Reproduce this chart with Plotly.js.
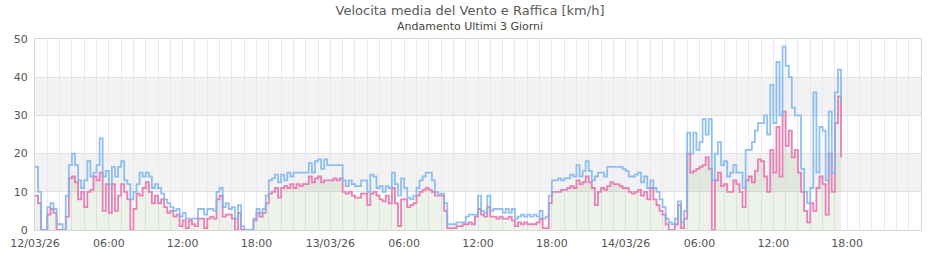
<!DOCTYPE html>
<html>
<head>
<meta charset="utf-8">
<script src="https://cdn.plot.ly/plotly-3.0.1.min.js"></script>
<style>html,body{margin:0;padding:0;background:#fff}#chart{width:940px;height:260px}</style>
</head>
<body>
<div id="chart"></div>
<script>
// Start of series and sampling step (minutes)
const seriesStart = "2026-03-12 00:00";
const stepMinutes = 15;

// Raffica (gust) km/h, 4 samples per hour from 12/03/26 00:00
const raffica = [
  16.5,10,0,0,  6,7,5.5,1.5,  1.5,0,9,17,  20,17,13,11,
  13,18,14,15,  17,24,14,15.5,  12,16.5,14,16.5,  18,13,12,8,
  10,12,15,14,  15,14,11,12,  11,9.5,8,7,  6,5,5.5,3.5,
  4.5,3,3,3,  3,5.5,5.5,4,  5.5,5.5,5,10,  11,6,7,5.5,
  6,3,6.5,1,  0,0,0,3,  5.5,4.5,5.5,9,  13,13.5,14.5,12.5,
  14.5,13,15,14,  15,15,15,15,  15,17.5,15,18,  18.5,16,18.5,17,
  17,17,17,17,  13,11.5,13,12,  11.5,11.5,13,13,  10,14.5,14,11,
  11.5,10,11.5,11,  15,12,9,13.5,  11,8.5,8,9,  11,13,14,15,
  15,13,10,9.5,  9.5,7,1.5,1.5,  1.5,2,2,2,  3.5,4,4,4,
  9,5,4.5,9,  5,5.5,5.5,5.5,  4.5,5.5,4.5,5.5,  3,3.5,4,3.5,
  4,3.5,4,3.5,  5,3,3.5,9,  13,13,13.5,13,  13.5,13.5,14.5,14,
  17,14,15.5,18,  15.5,13,14,15,  15,14,16.5,16.5,  16.5,16.5,16.5,16,
  15.5,14,14,14.5,  15,12.5,14,11,  13,11,10,8,  6,3,2,1.5,
  3,7.5,2,5,  25.5,20,25.5,21,  23,29,25,29,  13,20,23,17,
  18,14,15,17,  15,15,11,21,  21,23,26,28,  28,30,25,38,
  28,44,30,48,  43,40,32,30,  30,16,10,7,  11,36,15,27,
  26,13,31,15,  36,42,33
];

// Velocita media (average) km/h
const media = [
  9,7,0,0,  4,5.5,4.5,0,  0,0,3.5,13.5,  14,12.5,8,10,
  6,10,10.5,14,  13,15,5,12,  4.5,12,5,9,  12,10,8,0,
  5.5,9.5,9,11,  12.5,10,7,9,  7,8,6,4.5,  5,3.5,4,1,
  2.5,0.5,2.5,1.5,  1,3,3,0.5,  3,3.5,3,8,  9,3.5,4,4,
  3,0,4.5,0,  0,0,0,2.5,  4.5,3.5,4.5,7,  9.5,10,11,8.5,
  11,11.5,11,12,  11,12,11.5,12,  12,14,12.5,13.5,  14,12.5,13,13,
  13,13.5,13,13.5,  10,9.5,10,9,  8.5,8.5,9.5,9.5,  6.5,9.5,10,9,
  8,7.5,9,7,  11,7,1,8,  8,6,6.5,7,  9,10,10.5,11,
  10.5,10,9,9,  9,5,0.5,0.5,  0.5,1,1,1.5,  1.5,2,1.5,3.5,
  5.5,4,3.5,6,  3.5,3.5,3,3.5,  3,3,3.5,2.5,  1,2,1.5,2,
  1.5,1.5,1.5,2,  3,0.5,0.5,7,  10,10,10,10.5,  10.5,11,11.5,11,
  13,12,12.5,14,  12.5,11,6.5,10,  11,10.5,11.5,12.5,  12,12,11.5,11,
  11,10,9.5,10,  10.5,9,10,8,  11,8,6.5,5,  4,1.5,0,0,
  1.5,6.5,0.5,3,  20,15,15.5,16,  16.5,17,19,16,  0,13,15,11.5,
  12,10,10,13,  12,10,6,13,  14,12.5,15.5,18.5,  18,14,10,21,
  15,27,14,31,  22,26,19,21,  15,10,5,2,  7,5,11,14,
  12,4,20,10,  28,35,19
];

// Axis ticks
const tickHours = [0,6,12,18,24,30,36,42,48,54,60,66];
const tickLabels = ["12/03/26","06:00","12:00","18:00","13/03/26","06:00","12:00","18:00","14/03/26","06:00","12:00","18:00"];
const yTicks = [0,10,20,30,40,50];
const bands = [[10,20],[30,40]];

function pad(n){return (n<10?"0":"")+n;}
function timeAt(minutes){
  const d = new Date(Date.UTC(2026,2,12,0,0) + minutes*60000);
  return d.getUTCFullYear()+"-"+pad(d.getUTCMonth()+1)+"-"+pad(d.getUTCDate())+" "+pad(d.getUTCHours())+":"+pad(d.getUTCMinutes());
}
const times = raffica.map((_,i)=>timeAt(i*stepMinutes));

const traces = [
  {x: times, y: media, type:"scatter", mode:"lines", name:"Velocita media",
   line:{color:"#e87fb6", width:1.8, shape:"hv"}, fill:"tozeroy", fillcolor:"rgba(120,160,90,0.13)"},
  {x: times, y: raffica, type:"scatter", mode:"lines", name:"Raffica",
   line:{color:"#7cb5ec", width:1.8, shape:"hv"}, opacity:0.85}
];

const shapes = bands.map(b=>({type:"rect", xref:"paper", yref:"y", x0:0, x1:1, y0:b[0], y1:b[1],
  fillcolor:"rgba(0,0,0,0.05)", line:{width:0}, layer:"below"}));

const layout = {
  width:940, height:260,
  margin:{l:35, r:19, t:39, b:30},
  paper_bgcolor:"#fff", plot_bgcolor:"#fff",
  font:{family:"DejaVu Sans, sans-serif", size:11, color:"#555"},
  showlegend:false,
  title:{text:"Velocita media del Vento e Raffica [km/h]", x:0.5, xanchor:"center", xref:"container",
    y:0.958, yanchor:"middle", yref:"container",
    font:{size:13, color:"#5a5a5a"}},
  annotations:[{text:"Andamento Ultimi 3 Giorni", xref:"paper", yref:"paper", x:0.491, y:1.063,
    xanchor:"center", yanchor:"middle", showarrow:false, font:{size:11, color:"#444"}}],
  xaxis:{type:"date", range:[timeAt(0), timeAt(72*60)],
    tickmode:"array", tickvals: tickHours.map(h=>timeAt(h*60)), ticktext: tickLabels,
    showgrid:true, gridcolor:"#e8e8f8", gridwidth:1,
    minor:{dtick:3600000, showgrid:true, gridcolor:"#e8e8f8", gridwidth:1},
    showline:true, linecolor:"#d6d6d6", mirror:true, zeroline:false,
    ticks:"", ticklabelstandoff:3, tickfont:{size:11, color:"#555"}, fixedrange:true},
  yaxis:{range:[0,50], tickmode:"array", tickvals:yTicks,
    showgrid:true, gridcolor:"#e0e0e0", zeroline:false,
    showline:true, linecolor:"#d6d6d6", mirror:true,
    ticks:"", ticklabelstandoff:4, tickfont:{size:11, color:"#555"}, fixedrange:true},
  shapes: shapes
};

Plotly.newPlot("chart", traces, layout, {displayModeBar:false, staticPlot:true});
</script>
</body>
</html>
